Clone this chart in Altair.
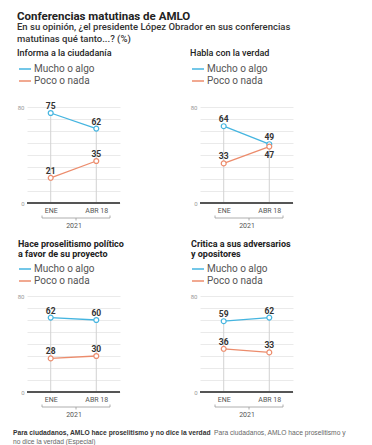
import altair as alt
import pandas as pd

# ---------------- data ----------------
main_title = "Conferencias matutinas de AMLO"
subtitle = ["En su opinión, ¿el presidente López Obrador en sus conferencias",
            "matutinas qué tanto...? (%)"]
panels = ["Informa a la ciudadanía", "Habla con la verdad",
          "Hace proselitismo político a favor de su proyecto",
          "Critica a sus adversarios y opositores"]
panel_titles = [["Informa a la ciudadanía"], ["Habla con la verdad"],
                ["Hace proselitismo político", "a favor de su proyecto"],
                ["Critica a sus adversarios", "y opositores"]]
periods = ["ENE", "ABR 18"]
year = "2021"
series = ["Mucho o algo", "Poco o nada"]
mucho = [[75, 62], [64, 49], [62, 60], [59, 62]]
poco = [[21, 35], [33, 47], [28, 30], [36, 33]]
caption_bold = "Para ciudadanos, AMLO hace proselitismo y no dice la verdad"
caption_rest = ["Para ciudadanos, AMLO hace proselitismo y",
                "no dice la verdad (Especial)"]

BLUE = "#45b5e0"
ORANGE = "#ec8c6c"
FONT = "Roboto"

rows = []
for i, p in enumerate(panels):
    for j, per in enumerate(periods):
        rows.append({"panel": p, "period": per, "series": series[0], "value": mucho[i][j]})
        rows.append({"panel": p, "period": per, "series": series[1], "value": poco[i][j]})
data = pd.DataFrame(rows)
one = pd.DataFrame({"k": [0]})

W, H = 93, 96


def deco_rule(x, x2, y, y2, color="#999", width=0.8):
    return alt.Chart(one).mark_rule(color=color, strokeWidth=width).encode(
        x=alt.value(x), x2=alt.value(x2), y=alt.value(y), y2=alt.value(y2))


def panel(i, legend_y, title_y, title_x, title_weight, extra=None):
    df = data[data["panel"] == panels[i]]
    base = alt.Chart(df)
    xs = alt.Scale(type="point", domain=periods, padding=0.52)
    ys = alt.Scale(domain=[0, 80], nice=False, zero=True)
    x_axis = alt.Axis(title=year, labelAngle=0, labelFont=FONT, labelFontSize=7,
                      labelColor="#555", ticks=False, tickSize=0, domain=False,
                      grid=False, labelPadding=3, titleFont=FONT, titleFontSize=7,
                      titleFontWeight="normal", titleColor="#555", titlePadding=8)
    y_axis = alt.Axis(title=None, values=list(range(0, 81, 10)),
                      labelExpr="datum.value == 0 || datum.value == 80 ? datum.label : ''",
                      labelFont=FONT, labelFontSize=6, labelColor="#999",
                      ticks=False, tickSize=0, domain=False, gridColor="#e4e4e4",
                      gridWidth=0.8, labelPadding=3)
    X = alt.X("period:N", scale=xs, axis=x_axis, sort=periods, title=year)
    Y = alt.Y("value:Q", scale=ys, axis=y_axis, title=None)

    vrules = base.transform_aggregate(top="max(value)", groupby=["period"]).mark_rule(
        color="#d2d2d2", strokeWidth=1).encode(
        x=X, y=alt.Y("top:Q", scale=ys, axis=y_axis, title=None), y2=alt.datum(0))
    baseline = alt.Chart(one).mark_rule(color="#555", strokeWidth=2).encode(
        y=alt.Y("k:Q", scale=ys, axis=y_axis, title=None))
    line = base.mark_line(strokeWidth=1.3).encode(
        x=X, y=Y,
        color=alt.Color("series:N", scale=alt.Scale(domain=series, range=[BLUE, ORANGE]),
                        legend=alt.Legend(title=None, orient="none", legendX=-9,
                                          legendY=legend_y, symbolType="stroke",
                                          symbolSize=144, symbolStrokeWidth=1.5,
                                          labelFont=FONT, labelFontSize=10,
                                          labelColor="#555", rowPadding=0, padding=0,
                                          labelOffset=2, direction="vertical")))
    pts = base.mark_point(shape="circle", filled=False, fill="white", fillOpacity=1,
                          size=24, strokeWidth=1.2, opacity=1).encode(
        x=X, y=Y,
        stroke=alt.Stroke("series:N", scale=alt.Scale(domain=series, range=[BLUE, ORANGE]),
                          legend=None))
    lab = base.transform_joinaggregate(
        hi="max(value)", lo="min(value)", groupby=["period"]).transform_calculate(
        below="datum.value == datum.lo && datum.hi - datum.lo < 6")
    lab_up = lab.transform_filter("!datum.below").mark_text(
        font=FONT, fontWeight="bold", fontSize=8.5, color="#333", dy=-7,
        baseline="middle").encode(x=X, y=Y, text="value:Q")
    lab_dn = lab.transform_filter("datum.below").mark_text(
        font=FONT, fontWeight="bold", fontSize=8.5, color="#333", dy=8,
        baseline="middle").encode(x=X, y=Y, text="value:Q")

    ptitle = alt.Chart(one).mark_text(
        align="left", baseline="middle", font=FONT, fontWeight=title_weight,
        fontSize=9, color="#222", lineHeight=10).encode(
        x=alt.value(title_x), y=alt.value(title_y), text=alt.value(panel_titles[i]))

    bracket = [deco_rule(15, 83, 111, 111), deco_rule(15, 15, 108.5, 111),
               deco_rule(83, 83, 108.5, 111), deco_rule(49, 49, 111, 113.5)]

    layers = [vrules, baseline, line, pts, lab_up, lab_dn, ptitle] + bracket
    if extra:
        layers += extra
    return alt.layer(*layers).properties(width=W, height=H)


CAP = 6.7
head = [
    alt.Chart(one).mark_text(align="left", baseline="middle", font=FONT,
                             fontWeight="bold", fontSize=11.5, color="#222").encode(
        x=alt.value(-10), y=alt.value(-90.5), text=alt.value(main_title)),
    alt.Chart(one).mark_text(align="left", baseline="middle", font=FONT,
                             fontWeight=500, fontSize=9.5, color="#333",
                             lineHeight=11.5).encode(
        x=alt.value(-10), y=alt.value(-79.8), text=alt.value(subtitle)),
]
foot = [
    alt.Chart(one).mark_text(align="left", baseline="middle", font="Liberation Sans",
                             fontWeight="bold", fontSize=CAP, color="#333").encode(
        x=alt.value(-14), y=alt.value(137), text=alt.value(caption_bold)),
    alt.Chart(one).mark_text(align="left", baseline="middle", font="Liberation Sans",
                             fontSize=CAP, color="#666").encode(
        x=alt.value(187), y=alt.value(137), text=alt.value(caption_rest[0])),
    alt.Chart(one).mark_text(align="left", baseline="middle", font="Liberation Sans",
                             fontSize=CAP, color="#666").encode(
        x=alt.value(-14), y=alt.value(145.5), text=alt.value(caption_rest[1])),
]

p1 = panel(0, -45, -54.5, -10, 500, head)
p2 = panel(1, -45, -54.5, -10, 500)
p3 = panel(2, -34, -52, -9, "bold", foot)
p4 = panel(3, -34, -52, -9, "bold")

chart = alt.concat(p1, p2, p3, p4, columns=2, spacing={"row": 93, "column": 80},
                   bounds="flush").resolve_scale(
    color="independent", stroke="independent", x="independent",
    y="independent").resolve_legend(color="independent").properties(
    padding={"left": 5, "top": 2, "right": 5, "bottom": 0},
    background="white").configure_view(stroke=None)

chart.save("out.html", embed_options={"renderer": "svg", "actions": False})
